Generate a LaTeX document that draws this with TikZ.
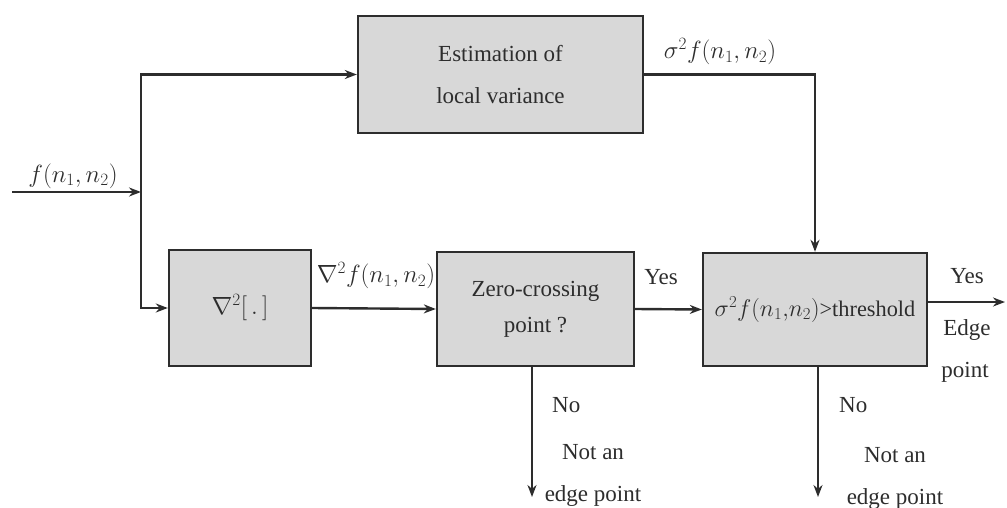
\documentclass[tikz,border=0pt]{standalone}
\usepackage{fontspec}
\setmainfont{Liberation Serif}
\newfontfamily\tnr{Liberation Serif}
\usetikzlibrary{arrows.meta}
\definecolor{ink}{RGB}{45,45,45}
\definecolor{boxfill}{RGB}{216,216,216}
\begin{document}
\begin{tikzpicture}[x=1pt,y=-1pt,
  font=\tnr\fontsize{23}{28}\selectfont,
  every node/.style={text=ink},
  block/.style={draw=ink, line width=2.4pt, fill=boxfill, rectangle,
    inner sep=0pt, align=center},
  flow/.style={draw=ink, line width=2.4pt,
    -{Stealth[length=12pt,width=9pt]}},
  lbl/.style={inner sep=0pt, anchor=center}]
\useasboundingbox (0,0) rectangle (1007,508);

% processing blocks
\node[block, minimum width=285pt, minimum height=117pt] (est) at (500.5,74.5)
  {Estimation of\\[14pt] local variance};
\node[block, minimum width=142pt, minimum height=116pt] (lap) at (240,308)
  {\raisebox{-6pt}{$\nabla^2[\,.\,]$}};
\node[block, minimum width=197pt, minimum height=114pt] (zc) at (535.5,309)
  {Zero-crossing\\[8pt] point ?};
\node[block, minimum width=224pt, minimum height=113pt] (thr) at (815,309.5)
  {\raisebox{-3pt}{\scalebox{0.97}{$\sigma^2f(n_1{,}n_2)$>threshold}}};

% free ends and branch point
\coordinate (in) at (12,192);
\coordinate (j) at (141,192);
\coordinate (out) at (1005,302);
\coordinate (zcno) at (532,497);
\coordinate (thrno) at (818,497);

% connectors
\draw[flow] (in) -- (j);
\draw[flow] (j) |- (est.west);
\draw[flow] (j) |- (lap.west);
\draw[flow] (lap.east) -- (zc.west);
\draw[flow] (zc.east) -- (thr.west);
\draw[flow] (est.east) -| (thr.north);
\draw[flow] (thr.east |- out) -- (out);
\draw[flow] (zc.south -| zcno) -- (zcno);
\draw[flow] (thr.south -| thrno) -- (thrno);

% signal labels
\node[lbl] (lin) at (73,176) {$f(n_1{,}\,n_2)$};
\node[lbl] (lsig) at (720,52) {$\sigma^2f(n_1{,}\,n_2)$};
\node[lbl] (llap) at (376,276) {$\nabla^2f(n_1{,}\,n_2)$};
\node[lbl] (lyes1) at (661,277) {Yes};
\node[lbl] (lyes2) at (967,276) {Yes};
\node[lbl] (ledge) at (967,330) {Edge};
\node[lbl] (lpoint) at (965,372) {point};
\node[lbl, anchor=west] (lno1) at (552,405) {No};
\node[lbl] (lnot1) at (593,452) {Not an};
\node[lbl] (ledge1) at (593,496) {edge point};
\node[lbl, anchor=west] (lno2) at (839,405) {No};
\node[lbl] (lnot2) at (895,455) {Not an};
\node[lbl] (ledge2) at (895,499) {edge point};
\end{tikzpicture}
\end{document}
